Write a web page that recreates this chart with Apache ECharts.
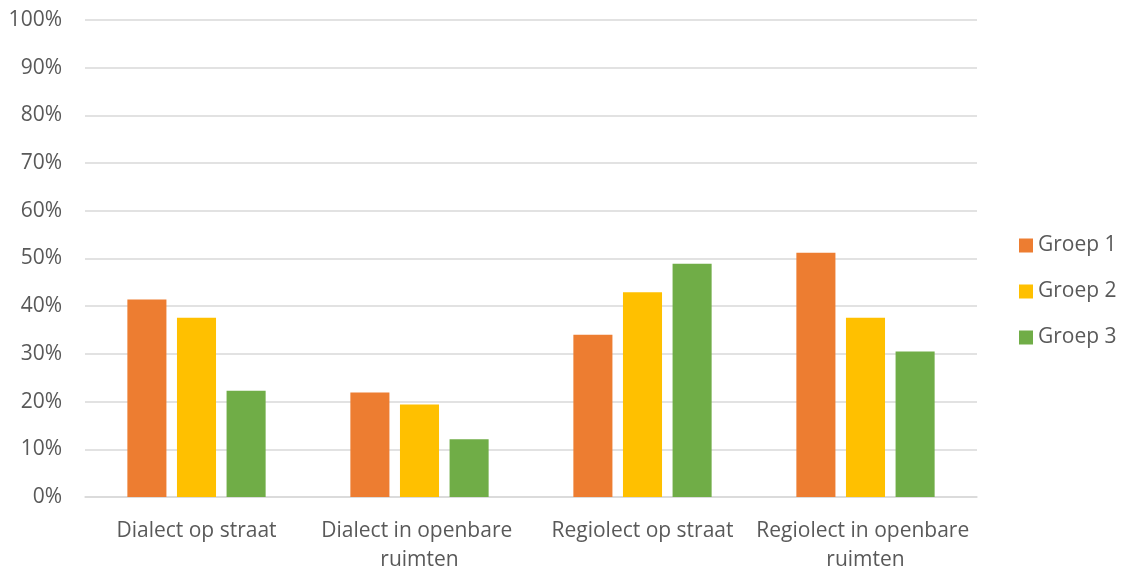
<!DOCTYPE html>
<html>
<head>
<meta charset="utf-8">
<script src="https://cdn.jsdelivr.net/npm/echarts@6/dist/echarts.min.js"></script>
<style>
  html, body { margin: 0; padding: 0; background: #fff; overflow: hidden; }
  #chart { width: 1122px; height: 575px; }
</style>
</head>
<body>
<div id="chart"></div>
<script>
// Share of respondents per language situation, by group (percent)
const categories = ['Dialect op straat', 'Dialect in openbare ruimten', 'Regiolect op straat', 'Regiolect in openbare ruimten'];
const groep1 = [41.4, 21.9, 34.0, 51.2];
const groep2 = [37.6, 19.4, 42.9, 37.6];
const groep3 = [22.3, 12.1, 48.9, 30.5];
const seriesNames = ['Groep 1', 'Groep 2', 'Groep 3'];
const colors = ['#ED7D31', '#FFC000', '#70AD47'];

const FONT = 'Open Sans';
const TEXT = '#595959';
const FS = 21;

const chart = echarts.init(document.getElementById('chart'), null, { renderer: 'canvas' });

const barSeries = [groep1, groep2, groep3].map((vals, i) => ({
  name: seriesNames[i],
  type: 'bar',
  data: vals,
  itemStyle: { color: colors[i] },
  barGap: '27%',
  barCategoryGap: '38%'
}));

chart.setOption({
  animation: false,
  textStyle: { fontFamily: FONT },
  grid: { left: 85, top: 20, width: 892, height: 482, containLabel: false },
  legend: {
    orient: 'vertical',
    left: 1019,
    top: 235,
    padding: 0,
    itemWidth: 14,
    itemHeight: 14,
    itemGap: 25,
    icon: 'rect',
    textStyle: { color: TEXT, fontSize: FS, fontFamily: FONT },
    data: seriesNames
  },
  xAxis: {
    type: 'category',
    data: categories,
    axisLine: { show: true, lineStyle: { color: '#d9d9d9', width: 1.5 } },
    axisTick: { show: false },
    axisLabel: {
      color: TEXT,
      fontSize: FS,
      fontFamily: FONT,
      margin: 20,
      lineHeight: 29,
      width: 220,
      overflow: 'break',
      interval: 0
    }
  },
  yAxis: {
    type: 'value',
    min: 0,
    max: 100,
    interval: 10,
    axisLine: { show: false },
    axisTick: { show: false },
    splitLine: { lineStyle: { color: '#d9d9d9', width: 1.5 } },
    axisLabel: {
      color: TEXT,
      fontSize: FS,
      fontFamily: FONT,
      margin: 23,
      formatter: v => v + '%'
    }
  },
  series: barSeries
});
</script>
</body>
</html>
